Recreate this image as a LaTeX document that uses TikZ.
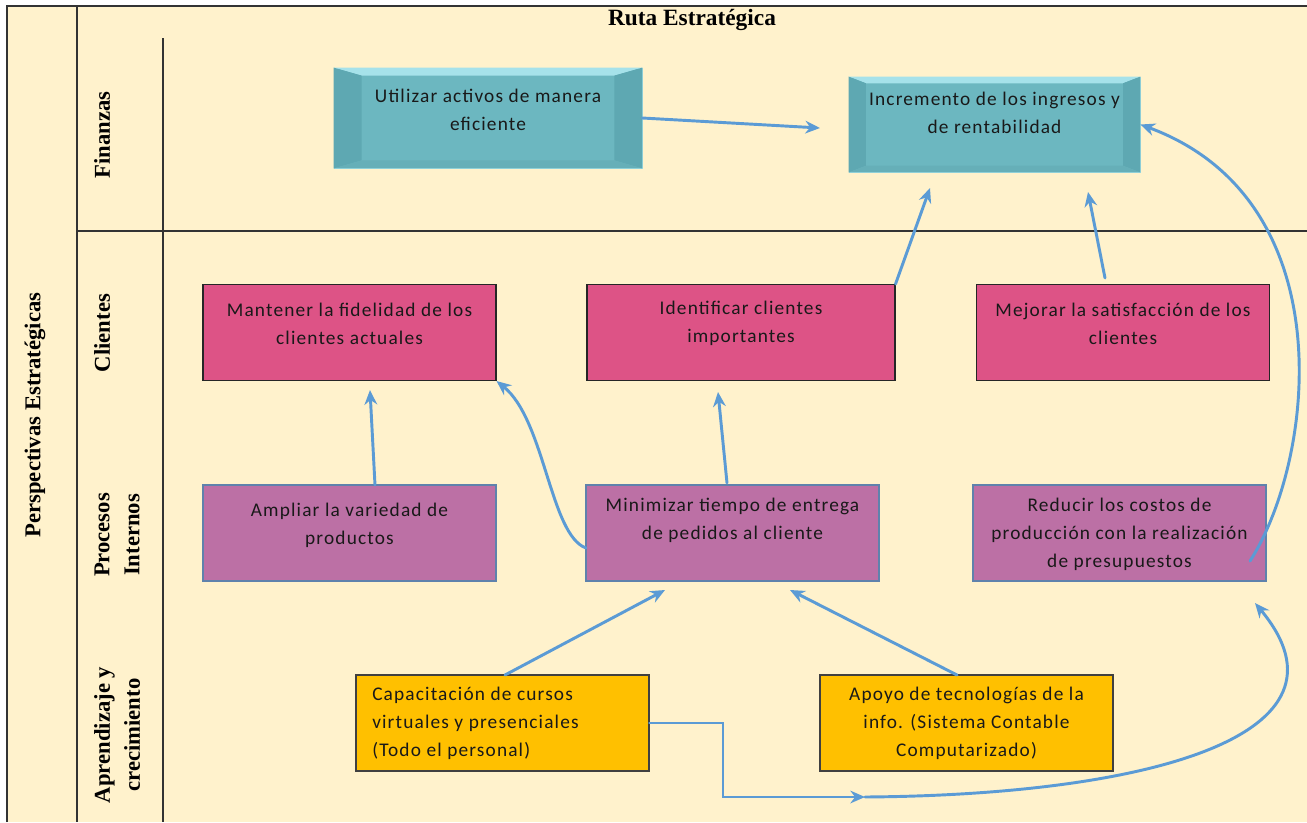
\documentclass[tikz,border=0pt]{standalone}
\usepackage{fontspec}
\setmainfont{Liberation Serif}
\newfontfamily\cajafont[LetterSpace=6]{Carlito}
\usetikzlibrary{arrows.meta,positioning}

\definecolor{crema}{HTML}{FFF2CC}
\definecolor{teal}{HTML}{6CB7C0}
\definecolor{tealclaro}{HTML}{A6E2EA}
\definecolor{tealosc}{HTML}{5EA8B2}
\definecolor{tealbajo}{HTML}{66AFB8}
\definecolor{rosa}{HTML}{DD5386}
\definecolor{morado}{HTML}{BC70A5}
\definecolor{bordemor}{HTML}{5F82AC}
\definecolor{amarillo}{HTML}{FFC000}
\definecolor{flecha}{HTML}{5B9BD5}

% bisel de las cajas de finanzas: nodo, ancho lateral, alto arriba/abajo
\newcommand{\bisel}[3]{%
  \fill[tealclaro] (#1.north west) -- (#1.north east) -- ([xshift=-#2,yshift=-#3]#1.north east) -- ([xshift=#2,yshift=-#3]#1.north west) -- cycle;
  \fill[tealosc] (#1.north west) -- ([xshift=#2,yshift=-#3]#1.north west) -- ([xshift=#2,yshift=#3]#1.south west) -- (#1.south west) -- cycle;
  \fill[tealosc] (#1.north east) -- ([xshift=-#2,yshift=-#3]#1.north east) -- ([xshift=-#2,yshift=#3]#1.south east) -- (#1.south east) -- cycle;
  \fill[tealbajo] (#1.south west) -- ([xshift=#2,yshift=#3]#1.south west) -- ([xshift=-#2,yshift=#3]#1.south east) -- (#1.south east) -- cycle;
}

\begin{document}
\begin{tikzpicture}[x=0.75pt, y=-0.75pt, >={Stealth[length=11pt,width=9.5pt]}]
	\tikzstyle{caja}=[inner sep=0pt, minimum width=219.75pt, minimum height=72pt]
	\tikzstyle{finbox}=[caja, fill=teal, draw=tealclaro, line width=0.6pt]
	\tikzstyle{clibox}=[caja, fill=rosa, draw=black!85, line width=0.8pt]
	\tikzstyle{probox}=[caja, fill=morado, draw=bordemor, line width=0.8pt]
	\tikzstyle{aprbox}=[caja, fill=amarillo, draw=black!75, line width=0.8pt]
	\tikzstyle{texto}=[font=\cajafont\fontsize{14.5}{21}\selectfont, text=black!90, align=center, inner sep=0pt]
	\tikzstyle{etiqueta}=[font=\bfseries\fontsize{17}{22.5}\selectfont, rotate=90, align=center, inner sep=0pt]
	\tikzstyle{marco}=[draw=black!80, line width=0.9pt]
	\tikzstyle{conector}=[->, draw=flecha, line width=2.2pt, line cap=round]

	\useasboundingbox (0,0) rectangle (1307,822);
	\fill[crema] (7,6) rectangle (1307,822);

	% marco de la tabla
	\draw[marco] (7,822) -- (7,6) -- (1307,6);
	\draw[marco] (77,6) -- (77,822);
	\draw[marco] (163,38) -- (163,822);
	\draw[marco] (77,231) -- (1307,231);

	\node[font=\bfseries\fontsize{17.5}{20}\selectfont] (titulo) at (692,20) {Ruta Estratégica};
	\node[etiqueta] (persp) at (35,415) {Perspectivas Estratégicas};
	\node[etiqueta] (finanzas) at (102,135) {Finanzas};
	\node[etiqueta] (clientes) at (102,333) {Clientes};
	\node[etiqueta] (procesos) at (117,535) {Procesos\\Internos};
	\node[etiqueta] (aprendizaje) at (117,735) {Aprendizaje y\\crecimiento};

	% finanzas
	\node[finbox, minimum width=231pt, minimum height=75pt] (util) at (488,118) {};
	\bisel{util}{21pt}{6pt}
	\node[texto] (util-t) at (488,110) {Utilizar activos de manera\\eficiente};
	\node[finbox, minimum width=218.25pt, minimum height=71.25pt] (incr) at (994.5,124.5) {};
	\bisel{incr}{13pt}{5pt}
	\node[texto] (incr-t) at (994.5,113) {Incremento de los ingresos y\\de rentabilidad};

	% clientes
	\node[clibox] (mantener) at (349.5,332.5) {};
	\node[texto] (mantener-t) at (349.5,324) {Mantener la fidelidad de los\\clientes actuales};
	\node[clibox, minimum width=231pt] (ident) at (741,332.5) {};
	\node[texto] (ident-t) at (741,323) {Identificar clientes\\importantes};
	\node[clibox] (mejorar) at (1123,332.5) {};
	\node[texto] (mejorar-t) at (1123,324) {Mejorar la satisfacción de los\\clientes};

	% procesos internos
	\node[probox] (ampliar) at (349.5,533) {};
	\node[texto] (ampliar-t) at (349.5,525) {Ampliar la variedad de\\productos};
	\node[probox] (minim) at (732.5,533) {};
	\node[texto] (minim-t) at (732.5,520) {Minimizar tiempo de entrega\\de pedidos al cliente};
	\node[probox] (reducir) at (1119.5,533) {};
	\node[texto] (reducir-t) at (1119.5,534) {Reducir los costos de\\producción con la realización\\de presupuestos};

	% aprendizaje y crecimiento
	\node[aprbox] (capac) at (502.5,723) {};
	\node[texto, anchor=west, align=left] (capac-t) at (372,723) {Capacitación de cursos\\virtuales y presenciales\\(Todo el personal)};
	\node[aprbox] (apoyo) at (966.5,723) {};
	\node[texto] (apoyo-t) at (966.5,723) {Apoyo de tecnologías de la\\info. (Sistema Contable\\Computarizado)};

	% extremos libres de los conectores
	\coordinate (incr-in) at (820,128);
	\coordinate (incr-bajo1) at (930,188);
	\coordinate (incr-bajo2) at (1088,192);
	\coordinate (mejorar-out) at (1105,278);
	\coordinate (reducir-out) at (1250,561);
	\coordinate (ampliar-out) at (375,485);
	\coordinate (mantener-in) at (370,390);
	\coordinate (minim-out) at (586,548);
	\coordinate (minim-arriba) at (727,483);
	\coordinate (ident-in) at (718,392);
	\coordinate (capac-out) at (505,675);
	\coordinate (minim-in1) at (665,590);
	\coordinate (apoyo-out) at (957,675);
	\coordinate (minim-in2) at (790,590);
	\coordinate (codo) at (723,797);
	\coordinate (union) at (865,797);
	\coordinate (reducir-in) at (1255,603);

	\draw[conector] (util.east) -- (incr-in);
	\draw[conector] (ident.north east) -- (incr-bajo1);
	\draw[conector] (mejorar-out) -- (incr-bajo2);
	\draw[conector] (reducir-out) .. controls (1315,460) and (1345,200) .. (incr.east);
	\draw[conector] (ampliar-out) -- (mantener-in);
	\draw[conector] (minim-out) .. controls (550,535) and (545,420) .. (mantener.south east);
	\draw[conector] (minim-arriba) -- (ident-in);
	\draw[conector] (capac-out) -- (minim-in1);
	\draw[conector] (apoyo-out) -- (minim-in2);
	\draw[conector] (capac.east) -| (codo) -- (union);
	\draw[conector] (union) .. controls (1150,795) and (1365,735) .. (reducir-in);
\end{tikzpicture}
\end{document}
